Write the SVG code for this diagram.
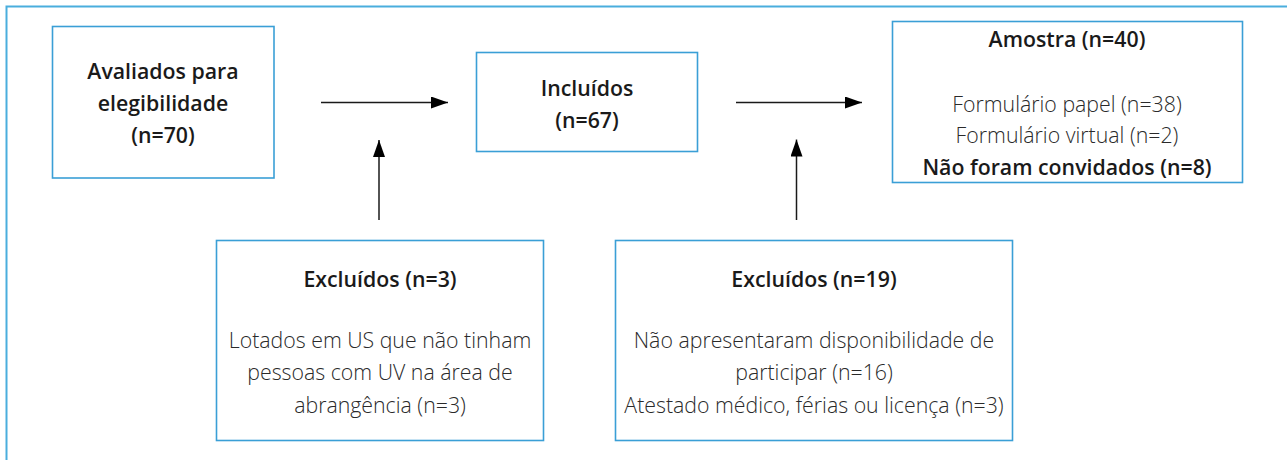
<svg xmlns="http://www.w3.org/2000/svg" width="1287" height="460" viewBox="0 0 1287 460">
<style>
.frame{fill:none;stroke:#4aaedd;stroke-width:2}
.box{fill:#fff;stroke:#3a9fd6;stroke-width:1.6}
.t{font-family:"Open Sans","Liberation Sans",sans-serif;font-size:21.3px;text-anchor:middle}
.b{font-weight:600;fill:#1a1a1a}
.l{font-weight:300;fill:#2a2a2a}
.c{stroke:#1a1a1a;stroke-width:1.5;fill:none}
</style>
<defs>
<marker id="ah" viewBox="0 0 17 12" refX="17" refY="6" markerWidth="17" markerHeight="12" markerUnits="userSpaceOnUse" orient="auto">
<path d="M0,0 L17,6 L0,12 z" fill="#000"/>
</marker>
</defs>
<rect width="1287" height="460" fill="#fff"/>
<path class="frame" d="M6.5,470 V6.5 H1300"/>
<g id="connectors">
<line class="c" x1="321" y1="102.5" x2="448" y2="102.5" marker-end="url(#ah)"/>
<line class="c" x1="379" y1="220" x2="379" y2="140" marker-end="url(#ah)"/>
<line class="c" x1="736" y1="102.5" x2="862" y2="102.5" marker-end="url(#ah)"/>
<line class="c" x1="796.5" y1="220" x2="796.5" y2="139.5" marker-end="url(#ah)"/>
</g>
<g id="avaliados">
<rect class="box" x="52.5" y="26.5" width="221.5" height="151.5"/>
<text class="t b" x="163" y="79">Avaliados para</text>
<text class="t b" x="163" y="111">elegibilidade</text>
<text class="t b" x="163" y="143">(n=70)</text>
</g>
<g id="incluidos">
<rect class="box" x="476.5" y="52.5" width="221" height="99"/>
<text class="t b" x="587" y="95.5">Incluídos</text>
<text class="t b" x="587" y="127.5">(n=67)</text>
</g>
<g id="amostra">
<rect class="box" x="892.5" y="21.5" width="350" height="161"/>
<text class="t b" x="1067" y="46.5">Amostra (n=40)</text>
<text class="t l" x="1067" y="111.5">Formulário papel (n=38)</text>
<text class="t l" x="1067" y="142.5">Formulário virtual (n=2)</text>
<text class="t b" x="1067" y="174.5">Não foram convidados (n=8)</text>
</g>
<g id="excluidos1">
<rect class="box" x="216.5" y="240.5" width="327" height="200"/>
<text class="t b" x="380" y="286.5">Excluídos (n=3)</text>
<text class="t l" x="380" y="348">Lotados em US que não tinham</text>
<text class="t l" x="380" y="380">pessoas com UV na área de</text>
<text class="t l" x="380" y="412.5">abrangência (n=3)</text>
</g>
<g id="excluidos2">
<rect class="box" x="615.5" y="240.5" width="397" height="200"/>
<text class="t b" x="814" y="286.5">Excluídos (n=19)</text>
<text class="t l" x="814" y="348">Não apresentaram disponibilidade de</text>
<text class="t l" x="814" y="379.5">participar (n=16)</text>
<text class="t l" x="814" y="412.5">Atestado médico, férias ou licença (n=3)</text>
</g>
</svg>
